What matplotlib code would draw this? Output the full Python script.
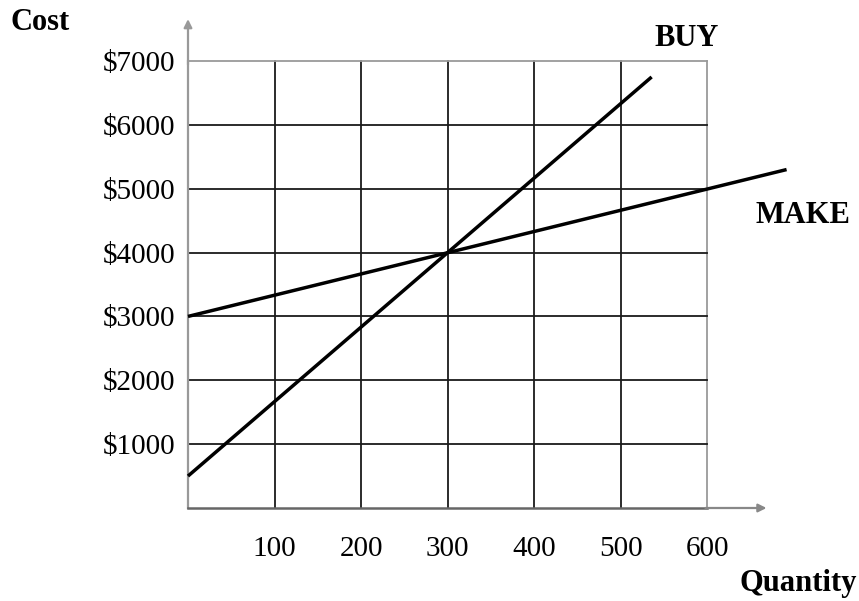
import matplotlib
matplotlib.use("Agg")
import matplotlib.pyplot as plt

quantity_ticks = [100, 200, 300, 400, 500, 600]
cost_ticks = [1000, 2000, 3000, 4000, 5000, 6000, 7000]
cost_labels = ["$1000", "$2000", "$3000", "$4000", "$5000", "$6000", "$7000"]

buy_x = [0, 536]
buy_y = [500, 6750]
make_x = [0, 692]
make_y = [3000, 5300]

plt.rcParams['font.family'] = ['Liberation Serif', 'DejaVu Serif']

fig = plt.figure(figsize=(8.59, 6.01), dpi=100)
ax = fig.add_axes([188/859, 93/601, (707-188)/859, (508-61)/601])
ax.set_xlim(0, 600)
ax.set_ylim(0, 7000)

for s in ['top', 'right']:
    ax.spines[s].set_visible(False)
ax.spines['left'].set_color('#999999')
ax.spines['left'].set_linewidth(1.6)
ax.spines['bottom'].set_color('#666666')
ax.spines['bottom'].set_linewidth(1.8)

# grid
for q in quantity_ticks:
    ax.plot([q, q], [0, 7000], color='#9a9a9a' if q == 600 else '#1a1a1a',
            lw=1.3, zorder=1, clip_on=False)
for c in cost_ticks:
    ax.plot([0, 600], [c, c], color='#9a9a9a' if c == 7000 else '#1a1a1a',
            lw=1.3, zorder=1, clip_on=False)

# axis arrows
ax.annotate('', xy=(0, 7700), xytext=(0, 6900),
            arrowprops=dict(arrowstyle='-|>', color='#999999', lw=1.6,
                            mutation_scale=12), annotation_clip=False)
ax.annotate('', xy=(672, 0), xytext=(595, 0),
            arrowprops=dict(arrowstyle='-|>', color='#888888', lw=1.6,
                            mutation_scale=12), annotation_clip=False)

ax.plot(buy_x, buy_y, color='black', lw=2.5, zorder=3, clip_on=False,
        solid_capstyle='butt')
ax.plot(make_x, make_y, color='black', lw=2.5, zorder=3, clip_on=False,
        solid_capstyle='butt')

ax.set_xticks(quantity_ticks)
ax.set_xticklabels([str(q) for q in quantity_ticks], fontsize=21)
ax.set_yticks(cost_ticks)
ax.set_yticklabels(cost_labels, fontsize=21)
ax.tick_params(length=0)
ax.tick_params(axis='x', pad=20)
ax.tick_params(axis='y', pad=9)

fig.text(10/859, 1 - 22/601, "Cost", fontsize=22, fontweight='bold',
         ha='left', va='center')
fig.text(857/859, 1 - 583/601, "Quantity", fontsize=22, fontweight='bold',
         ha='right', va='center')
ax.text(576, 7355, "BUY", fontsize=22, fontweight='bold', ha='center', va='center')
ax.text(711, 4585, "MAKE", fontsize=22, fontweight='bold', ha='center', va='center')

fig.savefig("out.png", dpi=100, facecolor='white')
